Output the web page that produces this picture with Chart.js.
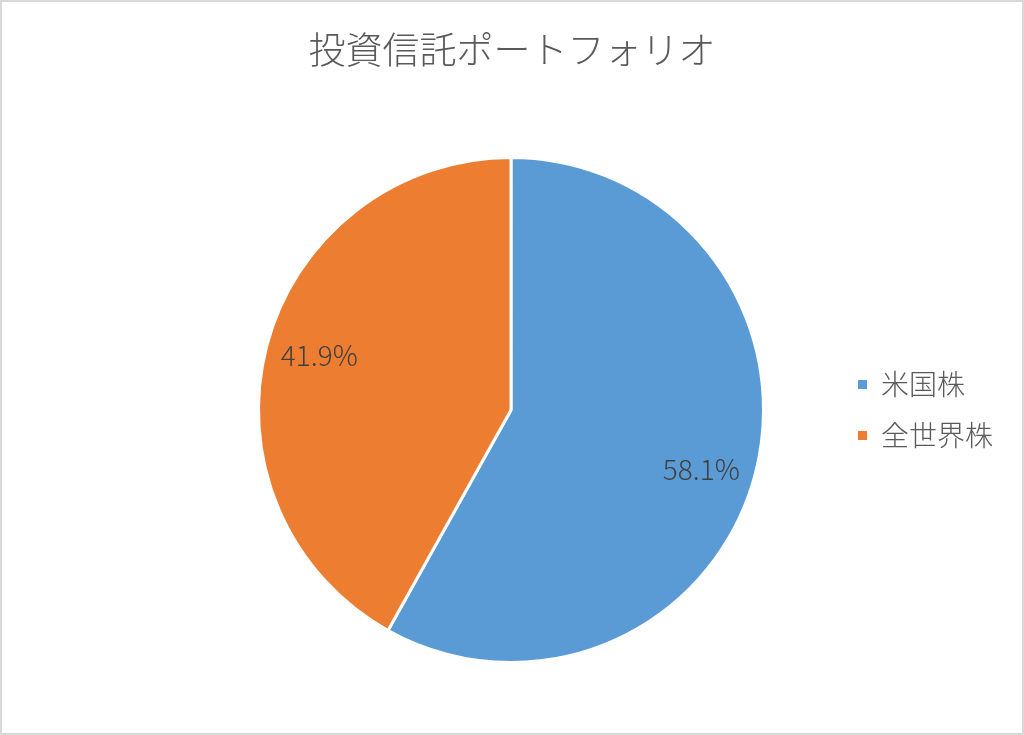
<!DOCTYPE html>
<html>
<head>
<meta charset="utf-8">
<script src="https://cdn.jsdelivr.net/npm/chart.js@4/dist/chart.umd.min.js"></script>
<style>
html,body{margin:0;padding:0;background:#fff;}
#wrap{position:relative;width:1024px;height:735px;}
</style>
</head>
<body>
<div id="wrap"><canvas id="c" width="1024" height="735"></canvas></div>
<script>
const chartTitle = "投資信託ポートフォリオ";
const categories = ["米国株", "全世界株"];
const values = [58.1, 41.9];
const colors = ["#5B9BD5", "#ED7D31"];
const FONT = "'Noto Sans CJK JP', 'Noto Sans', sans-serif";

const framePlugin = {
  id: 'frame',
  beforeDraw(chart) {
    const ctx = chart.ctx;
    ctx.save();
    ctx.fillStyle = '#ffffff';
    ctx.fillRect(0, 0, chart.width, chart.height);
    ctx.strokeStyle = '#D9D9D9';
    ctx.lineWidth = 2;
    ctx.strokeRect(1, 1, chart.width - 2, chart.height - 2);
    ctx.restore();
  },
  afterDraw(chart) {
    const ctx = chart.ctx;
    ctx.save();
    ctx.font = "300 37px " + FONT;
    ctx.fillStyle = '#595959';
    ctx.textAlign = 'center';
    ctx.textBaseline = 'middle';
    ctx.fillText(chartTitle, chart.width / 2, 50);
    ctx.restore();
  }
};

const labelPlugin = {
  id: 'sliceLabels',
  afterDatasetsDraw(chart) {
    const ctx = chart.ctx;
    const meta = chart.getDatasetMeta(0);
    const data = chart.data.datasets[0].data;
    const total = data.reduce((a, b) => a + b, 0);
    ctx.save();
    ctx.font = "300 28px " + FONT;
    ctx.fillStyle = '#404040';
    ctx.textAlign = 'center';
    ctx.textBaseline = 'middle';
    meta.data.forEach((arc, i) => {
      const p = arc.getProps(['x', 'y', 'startAngle', 'endAngle', 'outerRadius'], true);
      const mid = (p.startAngle + p.endAngle) / 2 + (i === 0 ? 0.05 : 0.025);
      const r = p.outerRadius * 0.79;
      const x = p.x + Math.cos(mid) * r;
      const y = p.y + Math.sin(mid) * r;
      ctx.fillText((data[i] / total * 100).toFixed(1) + '%', x, y);
    });
    ctx.restore();
  }
};

new Chart(document.getElementById('c'), {
  type: 'pie',
  data: {
    labels: categories,
    datasets: [{
      data: values,
      backgroundColor: colors,
      borderColor: '#ffffff',
      borderWidth: 3
    }]
  },
  options: {
    responsive: false,
    animation: false,
    devicePixelRatio: 1,
    layout: { padding: { top: 156, bottom: 71, left: 187, right: 21 } },
    plugins: {
      title: { display: false },
      legend: {
        position: 'right',
        labels: {
          color: '#595959',
          font: { family: FONT, size: 28, weight: 300 },
          boxWidth: 9,
          boxHeight: 9,
          padding: 23,
          generateLabels(chart) {
            const items = Chart.overrides.pie.plugins.legend.labels.generateLabels(chart);
            items.forEach(it => { it.lineWidth = 0; it.strokeStyle = it.fillStyle; });
            return items;
          }
        }
      },
      tooltip: { enabled: false }
    }
  },
  plugins: [framePlugin, labelPlugin]
});
</script>
</body>
</html>
